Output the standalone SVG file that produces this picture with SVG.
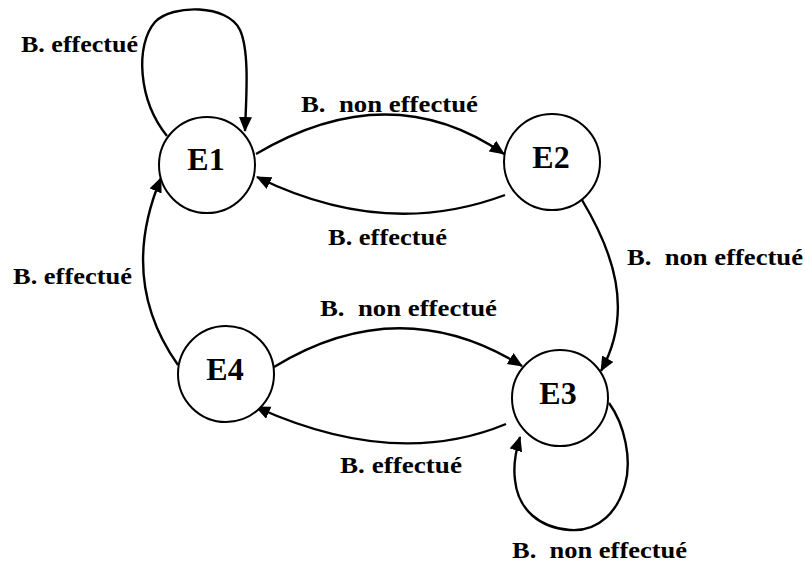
<svg xmlns="http://www.w3.org/2000/svg" width="805" height="562" viewBox="0 0 805 562">
  <style>
    .state circle { fill: #fff; stroke: #000; stroke-width: 2; }
    .state text { font-family: "Liberation Serif", "Times New Roman", serif; font-weight: bold; font-size: 32px; text-anchor: middle; fill: #000; }
    .edge { fill: none; stroke: #000; stroke-width: 2.4; marker-end: url(#arrow); }
    .label { font-family: "Liberation Serif", "Times New Roman", serif; font-weight: bold; font-size: 23px; fill: #000; white-space: pre; }
  </style>
  <defs>
    <marker id="arrow" markerUnits="userSpaceOnUse" markerWidth="16" markerHeight="14" refX="14" refY="6.5" orient="auto">
      <path d="M0,0 L15,6.5 L0,13 Z" fill="#000"/>
    </marker>
  </defs>
  <rect width="805" height="562" fill="#fff"/>

  <!-- transitions -->
  <g id="connectors">
    <!-- E1 self loop -->
    <path class="edge" d="M167,136 C138,100 135,45 155,22 C172,4 228,4 240,30 C250,52 246,100 245,131"/>
    <!-- E1 -> E2 -->
    <path class="edge" d="M256,154 Q390,75 504,154"/>
    <!-- E2 -> E1 -->
    <path class="edge" d="M505,195 Q385,240 257,177"/>
    <!-- E2 -> E3 -->
    <path class="edge" d="M582,200 C612,250 635,310 601,371"/>
    <!-- E4 -> E1 -->
    <path class="edge" d="M178,365 Q118,280 161,178"/>
    <!-- E4 -> E3 -->
    <path class="edge" d="M274,367 Q400,290 522,366"/>
    <!-- E3 -> E4 -->
    <path class="edge" d="M506,424 Q395,470 256,407"/>
    <!-- E3 self loop -->
    <path class="edge" d="M609,403 C625,425 632,460 625,485 C618,510 600,532 570,530 C540,528 518,510 515,480 C513,465 516,450 520,437"/>
  </g>

  <g id="E1" class="state">
    <circle cx="207" cy="165" r="48"/>
    <text x="206" y="170">E1</text>
  </g>
  <g id="E2" class="state">
    <circle cx="552" cy="162" r="48"/>
    <text x="551" y="168">E2</text>
  </g>
  <g id="E3" class="state">
    <circle cx="560" cy="398" r="48"/>
    <text x="558" y="404">E3</text>
  </g>
  <g id="E4" class="state">
    <circle cx="226" cy="374" r="48"/>
    <text x="225" y="380">E4</text>
  </g>

  <g id="labels">
    <text class="label" x="21" y="52" textLength="117" lengthAdjust="spacingAndGlyphs">B. effectué</text>
    <text class="label" x="301" y="112" textLength="177" lengthAdjust="spacingAndGlyphs">B.  non effectué</text>
    <text class="label" x="328" y="245" textLength="119" lengthAdjust="spacingAndGlyphs">B. effectué</text>
    <text class="label" x="627" y="265" textLength="176" lengthAdjust="spacingAndGlyphs">B.  non effectué</text>
    <text class="label" x="13" y="284" textLength="119" lengthAdjust="spacingAndGlyphs">B. effectué</text>
    <text class="label" x="320" y="316" textLength="177" lengthAdjust="spacingAndGlyphs">B.  non effectué</text>
    <text class="label" x="340" y="473" textLength="122" lengthAdjust="spacingAndGlyphs">B. effectué</text>
    <text class="label" x="512" y="558" textLength="175" lengthAdjust="spacingAndGlyphs">B.  non effectué</text>
  </g>
</svg>
